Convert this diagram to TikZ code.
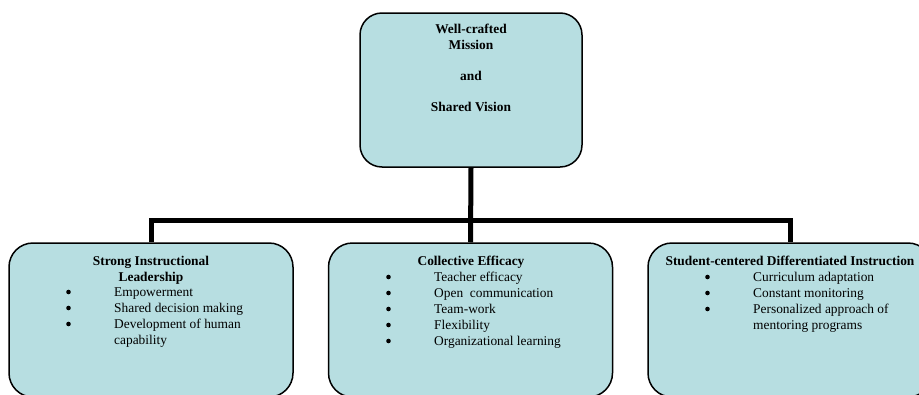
\documentclass[tikz,border=0pt]{standalone}
\usepackage{fontspec}
\setmainfont{Liberation Serif}
\definecolor{paleteal}{RGB}{183,222,225}
\newcommand\diagfont{\fontsize{13.4}{16}\selectfont}
\begin{document}
\begin{tikzpicture}[x=1pt, y=-1pt,
  every node/.style={font=\diagfont, inner sep=0pt},
  box/.style={draw, line width=1.5pt, fill=paleteal, rounded corners=24pt, minimum width=284pt, minimum height=154pt},
  head/.style={anchor=base, font=\diagfont\bfseries},
  entry/.style={anchor=base west},
  link/.style={line width=5pt}]
\clip (0,0) rectangle (919,394);
% boxes
\node (mission)[box, minimum width=222pt, rounded corners=22pt] at (471,90){};
\node (leader)[box] at (151,320){};
\node (efficacy)[box] at (470.5,320){};
\node (student)[box] at (790,320){};
% connectors
\coordinate (bar) at (0,220);
\draw [link](mission.south)--(efficacy.north);
\draw [link](leader.north) |- (mission.south |- bar) -| (student.north);
% top text
\node (missA)[head] at (471,33){Well-crafted};
\node (missB)[head] at (471,49){Mission};
\node (missC)[head] at (471,80){and};
\node (missD)[head] at (471,111){Shared Vision};
% left box
\node (leadT)[head] at (151,265){Strong Instructional};
\node (leadT2)[head] at (151,281){Leadership};
\node (lead1)[entry] at (114,296){Empowerment};
\node (lead2)[entry] at (114,312){Shared decision making};
\node (lead3)[entry] at (114,328){Development of human};
\node (lead3b)[entry] at (114,344){capability};
% middle box
\node (effT)[head] at (471,265){Collective Efficacy};
\node (eff1)[entry] at (434,281){Teacher efficacy};
\node (eff2)[entry] at (434,297){Open~ communication};
\node (eff3)[entry] at (434,313){Team-work};
\node (eff4)[entry] at (434,329){Flexibility};
\node (eff5)[entry] at (434,345){Organizational learning};
% right box
\node (studT)[head] at (790,265){Student-centered Differentiated Instruction};
\node (stud1)[entry] at (753,281){Curriculum adaptation};
\node (stud2)[entry] at (753,297){Constant monitoring};
\node (stud3)[entry] at (753,313){Personalized approach of};
\node (stud3b)[entry] at (753,329){mentoring programs};
% bullets
\foreach \item in {lead1,lead2,lead3,eff1,eff2,eff3,eff4,eff5,stud1,stud2,stud3}
  \fill ([xshift=-45.5pt,yshift=4pt]\item.base west) circle (2.3pt);
\end{tikzpicture}
\end{document}
